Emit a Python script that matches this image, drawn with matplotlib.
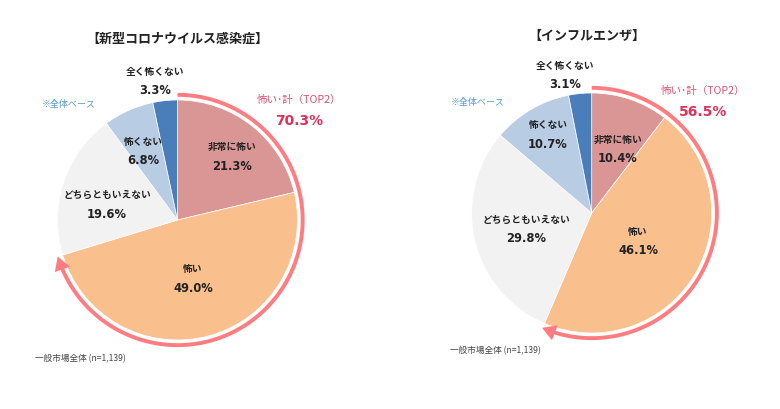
"""Two pie charts: how scary people find COVID-19 vs. influenza."""
import numpy as np
import matplotlib
matplotlib.use("Agg")
import matplotlib.pyplot as plt

# ── Data ─────────────────────────────────────────────
categories = ["非常に怖い", "怖い", "どちらともいえない", "怖くない", "全く怖くない"]
covid_values = [21.3, 49.0, 19.6, 6.8, 3.3]
flu_values = [10.4, 46.1, 29.8, 10.7, 3.1]
covid_title = "【新型コロナウイルス感染症】"
flu_title = "【インフルエンザ】"
covid_top2 = 70.3
flu_top2 = 56.5
top2_label = "怖い･計（TOP2）"
base_note = "※全体ベース"
sample_note = "一般市場全体 (n=1,139)"

# ── Style ────────────────────────────────────────────
W, H = 780, 409
COLORS = ["#D99694", "#F9BF8D", "#F2F2F2", "#B8CCE4", "#4A7EBB"]
ARC = "#FF7C80"
CJK = ["Noto Sans CJK JP", "DejaVu Sans"]
R_PX = 120
LIM = 1.25
ARC_R = 1.043

# label anchor points in pixels, one (x, y) per category
COVID_POS = [(232, 147), (193, 269), (107, 195), (143, 142), (155, 72)]
FLU_POS = [(618, 140), (638, 232), (526, 220), (548, 125), (565, 66)]


def px_text(fig, x, y, s, **kw):
    kw.setdefault("ha", "center")
    kw.setdefault("va", "center")
    return fig.text(x / W, 1 - y / H, s, **kw)


def draw_pie(fig, center, values, top2, title, title_xy, positions, base_xy, top2_xy, note_xy):
    cx, cy = center
    half = R_PX * LIM
    ax = fig.add_axes([(cx - half) / W, 1 - (cy + half) / H, 2 * half / W, 2 * half / H])
    ax.pie(values, colors=COLORS, startangle=90, counterclock=False, radius=1,
           wedgeprops={"edgecolor": "white", "linewidth": 0.5})
    ax.set_xlim(-LIM, LIM)
    ax.set_ylim(-LIM, LIM)
    ax.set_aspect("equal")
    ax.axis("off")

    # TOP2 arc, clockwise from 12 o'clock, ends in an arrow head
    end_deg = 90 - 3.6 * top2
    theta = np.radians(np.linspace(90, end_deg + 4, 200))
    ax.plot(ARC_R * np.cos(theta), ARC_R * np.sin(theta), color=ARC, lw=2.8,
            solid_capstyle="butt", clip_on=False)
    tip = np.radians(end_deg)
    back = np.radians(end_deg + 5)
    ax.annotate("", xy=(ARC_R * np.cos(tip), ARC_R * np.sin(tip)),
                xytext=(ARC_R * np.cos(back), ARC_R * np.sin(back)),
                arrowprops=dict(arrowstyle="-|>,head_length=0.55,head_width=0.32",
                                color=ARC, lw=0, shrinkA=0, shrinkB=0, mutation_scale=18))

    for name, val, (x, y) in zip(categories, values, positions):
        px_text(fig, x, y, name, family=CJK, fontsize=7, fontweight="bold", color="#222222")
        px_text(fig, x, y + 19, f"{val:.1f}%", family="DejaVu Sans", fontsize=8.3,
                fontweight="bold", color="#222222")

    px_text(fig, *title_xy, title, family=CJK, fontsize=9.4, fontweight="bold", color="#222222")
    px_text(fig, *base_xy, base_note, family=CJK, fontsize=6.5, color="#5B9BD5")
    px_text(fig, top2_xy[0] + 3, top2_xy[1], top2_label, family=CJK, fontsize=7.6, color="#D8566F")
    px_text(fig, top2_xy[0] + 3, top2_xy[1] + 21, f"{top2:.1f}%", family="DejaVu Sans",
            fontsize=10, fontweight="bold", color="#E0305A")
    px_text(fig, *note_xy, sample_note, family=CJK, fontsize=6.2, color="#444444", ha="left")


fig = plt.figure(figsize=(W / 100, H / 100), dpi=100, facecolor="white")
draw_pie(fig, (177.5, 220), covid_values, covid_top2, covid_title, (177, 39), COVID_POS,
         (69, 104), (296, 100), (35, 359))
draw_pie(fig, (591.7, 213), flu_values, flu_top2, flu_title, (587, 36), FLU_POS,
         (478, 102), (700, 91), (450, 351))
fig.savefig("out.png", dpi=100)
